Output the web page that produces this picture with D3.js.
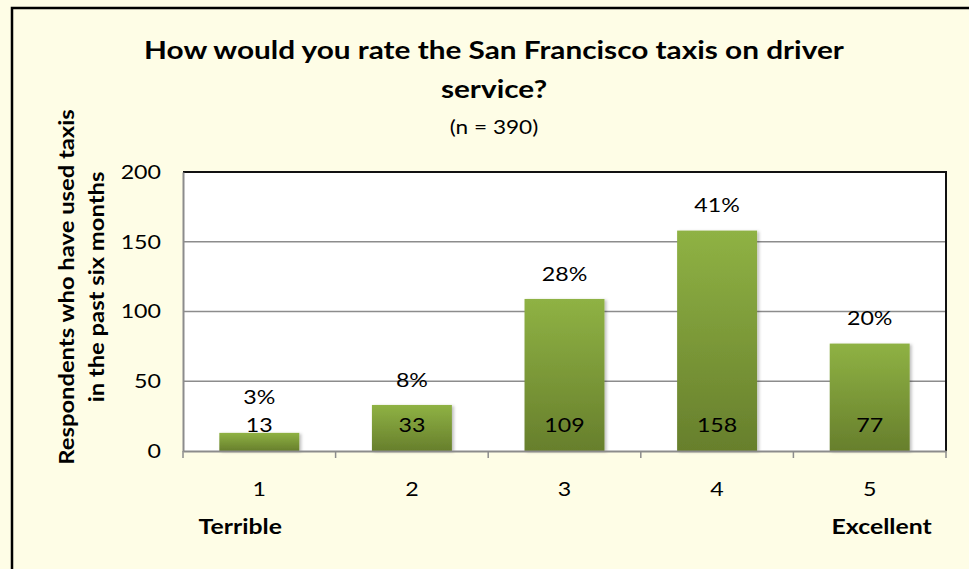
<!DOCTYPE html>
<html><head><meta charset="utf-8">
<script src="https://cdn.jsdelivr.net/npm/d3@7"></script>
<style>body{margin:0;background:#fff;}svg{display:block;}</style>
</head><body>
<svg id="c" width="969" height="569"></svg>
<script>
const categories = ["1","2","3","4","5"];
const counts = [13, 33, 109, 158, 77];
const percents = ["3%","8%","28%","41%","20%"];
const yTicks = [0, 50, 100, 150, 200];
const titleLines = ["How would you rate the San Francisco taxis on driver", "service?"];
const subtitle = "(n = 390)";
const yLabelLines = ["Respondents who have used taxis", "in the past six months"];
const endLabels = ["Terrible", "Excellent"];

const font = "Lato, 'Open Sans', sans-serif";
const SX = 1.19;
const svg = d3.select("#c");

function label(parent, x, y, str, size, weight, anchor, sx, rot) {
  return parent.append("text")
    .attr("transform", `translate(${x},${y})${rot ? " rotate(" + rot + ")" : ""} scale(${sx || SX},1)`)
    .attr("dy", "0.35em").attr("text-anchor", anchor || "middle")
    .attr("font-family", font).attr("font-size", size).attr("font-weight", weight || "normal")
    .attr("fill", "#000").text(str);
}

svg.append("rect").attr("x",0).attr("y",0).attr("width",969).attr("height",569).attr("fill","#fefde6");
svg.append("rect").attr("x",12).attr("y",8).attr("width",1000).attr("height",600)
  .attr("fill","none").attr("stroke","#000").attr("stroke-width",2.5);

const m = {l:183, t:172, r:946, b:451};
const x = d3.scaleBand().domain(categories).range([m.l, m.r]).paddingInner(0.476).paddingOuter(0.238);
const y = d3.scaleLinear().domain([0,200]).range([m.b, m.t]);

const defs = svg.append("defs");
const g = defs.append("linearGradient").attr("id","bg").attr("x1",0).attr("y1",0).attr("x2",0).attr("y2",1);
g.append("stop").attr("offset","0%").attr("stop-color","#8fb244");
g.append("stop").attr("offset","100%").attr("stop-color","#677f2c");
const f = defs.append("filter").attr("id","sh").attr("x","-20%").attr("y","-20%").attr("width","140%").attr("height","140%");
f.append("feDropShadow").attr("dx",2).attr("dy",1).attr("stdDeviation",1.5).attr("flood-color","#000").attr("flood-opacity",0.25);

svg.append("rect").attr("x",m.l).attr("y",m.t).attr("width",m.r-m.l).attr("height",m.b-m.t).attr("fill","#fff");

// gridlines
svg.append("g").selectAll("line").data(yTicks.filter(d=>d>0 && d<200)).join("line")
  .attr("x1",m.l).attr("x2",m.r).attr("y1",d=>y(d)).attr("y2",d=>y(d))
  .attr("stroke","#8c8c8c").attr("stroke-width",1.3);

// plot border top/right
svg.append("path").attr("d",`M${m.l},${m.t}H${m.r}V${m.b}`).attr("fill","none").attr("stroke","#111").attr("stroke-width",2);

// bars
svg.append("g").selectAll("rect").data(counts).join("rect")
  .attr("x",(d,i)=>x(categories[i])).attr("width",x.bandwidth())
  .attr("y",d=>y(d)).attr("height",d=>y(0)-y(d))
  .attr("fill","url(#bg)").attr("filter","url(#sh)");

// y axis
const ya = svg.append("g").attr("transform",`translate(${m.l},0)`)
  .call(d3.axisLeft(y).tickValues(yTicks).tickSize(0).tickFormat(""));
ya.select(".domain").attr("stroke","#8c8c8c").attr("stroke-width",2);
const yl = svg.append("g");
yTicks.forEach(t => label(yl, 161, y(t), String(t), 19.5, "normal", "end"));

// x axis
const xa = svg.append("g").attr("transform",`translate(0,${m.b})`)
  .call(d3.axisBottom(x).tickSize(0).tickFormat(""));
xa.select(".domain").attr("stroke","#8c8c8c").attr("stroke-width",2);
const bounds = categories.map(c=>x(c)-x.step()*x.paddingInner()/2).concat([m.r]);
xa.append("g").selectAll("line").data(bounds).join("line")
  .attr("x1",d=>d).attr("x2",d=>d).attr("y1",0).attr("y2",7).attr("stroke","#8c8c8c").attr("stroke-width",1.5);
const xl = svg.append("g");
categories.forEach(c => label(xl, x(c)+x.bandwidth()/2, 489, c, 19.5));

// value labels
const lblY = y(0) - 26;
const vl = svg.append("g");
counts.forEach((d,i) => {
  const cx = x(categories[i]) + x.bandwidth()/2;
  label(vl, cx, lblY, String(d), 19.5);
  label(vl, cx, Math.min(y(d)-25, lblY-28), percents[i], 19.5);
});

// end labels
label(svg, x("1")+x.bandwidth()/2-19, 527, endLabels[0], 20, "bold", "middle", 1.24);
label(svg, x("5")+x.bandwidth()/2+12, 527, endLabels[1], 20, "bold", "middle", 1.24);

// title
titleLines.forEach((t,i) => label(svg, 494, 50+i*39, t, 25, "bold"));
label(svg, 494, 127, subtitle, 19);

// y label
yLabelLines.forEach((t,i) => label(svg, 67+i*30, 287, t, 20.5, "bold", "middle", 1.16, -90));
</script>
</body></html>
